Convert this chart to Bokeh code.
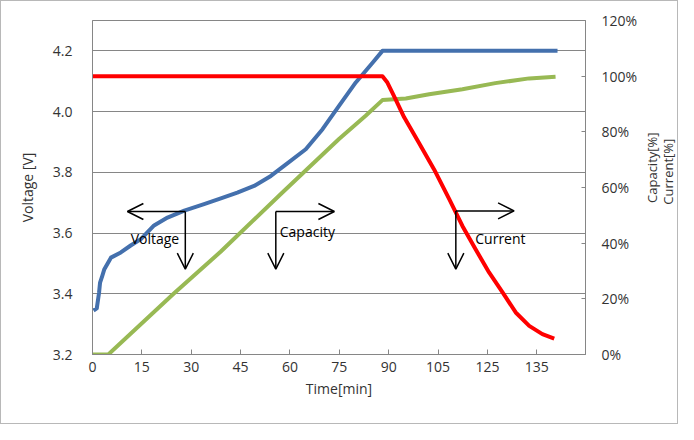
import math
from bokeh.plotting import figure
from bokeh.layouts import row
from bokeh.models import (Range1d, LinearAxis, FixedTicker, PrintfTickFormatter,
                          Label, Arrow, OpenHead)
from bokeh.core.properties import value
from bokeh.embed import file_html
from bokeh.resources import INLINE

# ---------------- data ----------------
time_v = [0.3, 1.3, 2.0, 2.3, 3.0, 3.6, 5.6, 8.6, 11.6, 14.7, 18.7, 22.8, 27.9, 33.9,
          39.0, 44.0, 49.1, 54.2, 58.2, 64.8, 69.9, 74.9, 80.0, 85.1, 88.1, 141.3]
voltage = [3.345, 3.352, 3.404, 3.437, 3.46, 3.481, 3.519, 3.536, 3.559, 3.58, 3.625,
           3.651, 3.674, 3.695, 3.714, 3.733, 3.755, 3.788, 3.821, 3.876, 3.942, 4.019,
           4.096, 4.161, 4.2, 4.2]

time_c = [0, 4.8, 24.8, 39.0, 57.7, 74.9, 83.0, 88.1, 95.2, 102.3, 112.4, 122.4, 132.7, 140.7]
capacity = [0, 0, 22.0, 37.0, 58.2, 77.4, 85.8, 91.4, 92.0, 93.5, 95.3, 97.5, 99.2, 99.8]

time_i = [0, 88.1, 89.6, 91.1, 92.1, 94.7, 99.3, 103.8, 108.4, 112.4, 116.4, 120.5,
          124.6, 128.6, 132.7, 136.7, 140.3]
current = [100, 100, 97.7, 94.1, 91.7, 85.2, 75.8, 66.5, 55.8, 46.2, 37.8, 29.5,
           22.3, 15.1, 10.3, 7.3, 5.7]

x_ticks = [0, 15, 30, 45, 60, 75, 90, 105, 120, 135]
x_labels = ["0", "15", "30", "45", "60", "75", "90", "105", "125", "135"]
v_ticks = [3.2, 3.4, 3.6, 3.8, 4.0, 4.2]
pct_ticks = [0, 20, 40, 60, 80, 100, 120]
right_titles = ["Capacity[%]", "Current[%]"]

# annotation arrows: (corner x, corner y, tip x, tip y)
arrow_specs = [
    (28.2, 3.671, 10.6, 3.671), (28.2, 3.671, 28.2, 3.481),
    (55.7, 3.671, 73.5, 3.671), (55.7, 3.671, 55.7, 3.481),
    (110.4, 3.673, 128.1, 3.673), (110.4, 3.673, 110.4, 3.481),
]
notes = [("Voltage", 11.6, 3.583), ("Capacity", 56.9, 3.605), ("Current", 116.3, 3.583)]

FONT = "Open Sans"
GRID = "#868686"
TXT = "#333333"
BLUE = "#4470AD"
GREEN = "#98B954"
RED = "#FF0000"

H = 422
W1 = 640
W2 = 676 - W1

p = figure(width=W1, height=H, output_backend="svg", toolbar_location=None,
           x_range=Range1d(0, 149.8), y_range=Range1d(3.2, 4.3),
           min_border_left=91, min_border_right=W1 - 91 - 493, min_border_top=19,
           min_border_bottom=69)
p.extra_y_ranges = {"pct": Range1d(0, 120)}
p.outline_line_color = GRID
p.outline_line_width = 1
p.background_fill_color = "white"
p.border_fill_color = "white"

# x axis
xa = p.xaxis[0]
xa.ticker = FixedTicker(ticks=x_ticks)
xa.major_label_overrides = {t: l for t, l in zip(x_ticks, x_labels)}
xa.axis_label = "Time[min]"
# y axis
ya = p.yaxis[0]
ya.ticker = FixedTicker(ticks=v_ticks)
ya.formatter = PrintfTickFormatter(format="%.1f")
ya.axis_label = "Voltage [V]"
# right axis
ra = LinearAxis(y_range_name="pct", ticker=FixedTicker(ticks=pct_ticks),
                formatter=PrintfTickFormatter(format="%d%%"))
p.add_layout(ra, "right")

for ax in (xa, ya, ra):
    ax.axis_line_color = GRID
    ax.major_tick_line_color = GRID
    ax.minor_tick_line_color = None
    ax.major_label_text_font = FONT
    ax.major_label_text_font_size = "14px"
    ax.major_label_text_color = TXT
    ax.axis_label_text_font = FONT
    ax.axis_label_text_font_size = "14px"
    ax.axis_label_text_font_style = "normal"
    ax.axis_label_text_color = TXT

xa.major_tick_in = 5
xa.major_tick_out = 0
xa.major_label_standoff = 7
xa.axis_label_standoff = 4
ya.major_tick_in = 0
ya.major_tick_out = 0
ya.major_label_standoff = 20
ya.axis_label_standoff = 13
ra.major_tick_in = 4
ra.major_tick_out = 0
ra.major_label_standoff = 16

p.xgrid.grid_line_color = None
p.ygrid.ticker = FixedTicker(ticks=v_ticks)
p.ygrid.grid_line_color = GRID
p.ygrid.grid_line_width = 1

# series
p.line(time_v, voltage, line_color=BLUE, line_width=4, line_join="round")
p.line(time_c, capacity, y_range_name="pct", line_color=GREEN, line_width=4, line_join="round")
p.line(time_i, current, y_range_name="pct", line_color=RED, line_width=4, line_join="round")

# annotations
for x0, y0, x1, y1 in arrow_specs:
    p.add_layout(Arrow(x_start=x0, y_start=y0, x_end=x1, y_end=y1,
                       line_color="black", line_width=1.5,
                       end=OpenHead(size=16, line_color="black", line_width=1.5)))
for txt, x, y in notes:
    p.add_layout(Label(x=x, y=y, text=txt, text_font=FONT, text_font_size="14px",
                       text_color="black", text_baseline="middle", text_align="left"))

# narrow strip holding the right-hand axis title (two rotated lines)
p2 = figure(width=W2, height=H, output_backend="svg", toolbar_location=None,
            x_range=Range1d(0, W2), y_range=Range1d(0, H),
            min_border=0, x_axis_type=None, y_axis_type=None)
p2.outline_line_color = None
p2.grid.grid_line_color = None
p2.background_fill_color = "white"
p2.border_fill_color = "white"
p2.text(x=[10, 26], y=[H - 186, H - 191], text=right_titles, angle=math.pi / 2,
        text_align="center", text_baseline="middle", text_font=value(FONT),
        text_font_size="13px", text_color=TXT)

layout = row(p, p2, spacing=0)
layout.styles = {"border": "1px solid #b8b8b8"}

open("out.html", "w").write(file_html(layout, INLINE))
